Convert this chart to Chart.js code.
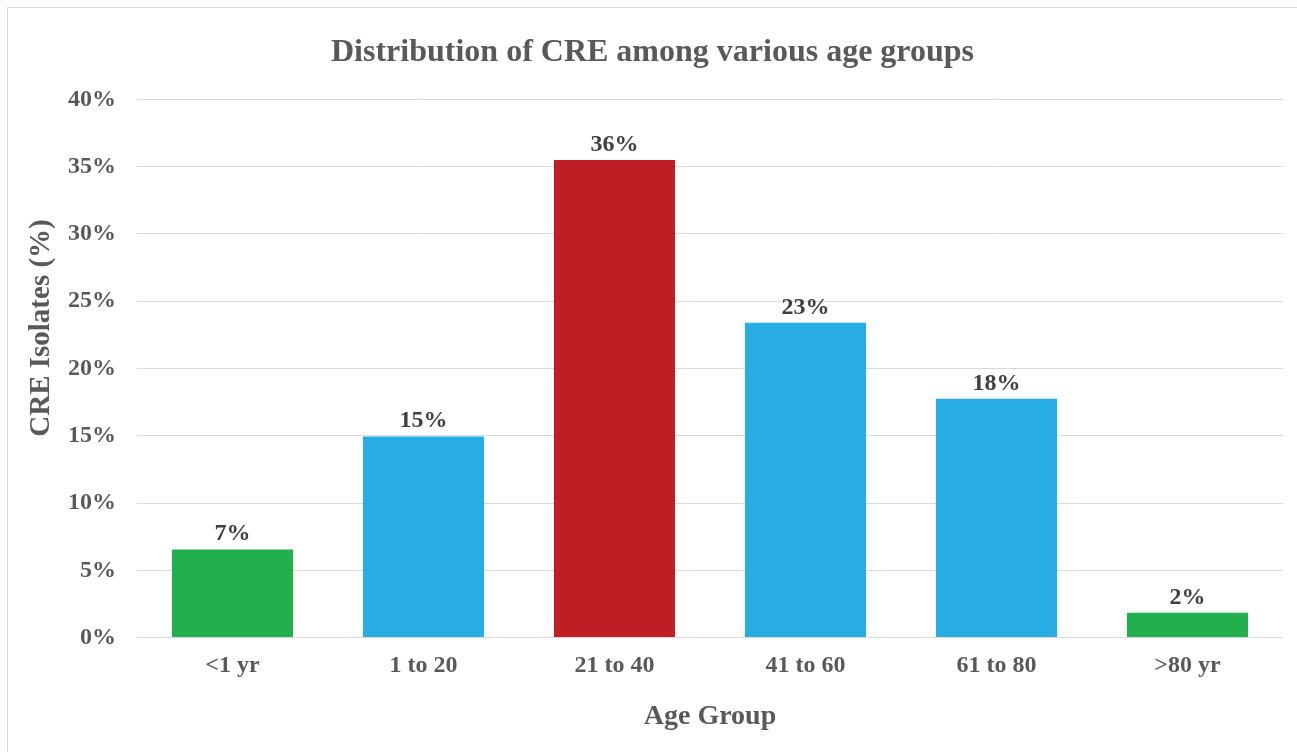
<!DOCTYPE html>
<html>
<head>
<meta charset="utf-8">
<script src="https://cdn.jsdelivr.net/npm/chart.js@4.4.0/dist/chart.umd.min.js"></script>
<style>
  html, body { margin: 0; padding: 0; background: #fff; }
  #wrap { position: absolute; left: 0; top: 0; width: 1297px; height: 752px; overflow: hidden; }
  #frame { position: absolute; left: 7px; top: 7px; width: 1300px; height: 760px;
           border-left: 1px solid #d9d9d9; border-top: 1px solid #d9d9d9; }
  canvas { position: absolute; left: 0; top: 0; }
</style>
</head>
<body>
<div id="wrap">
  <div id="frame"></div>
  <canvas id="c" width="1297" height="752"></canvas>
</div>
<script>
const categories = ["<1 yr", "1 to 20", "21 to 40", "41 to 60", "61 to 80", ">80 yr"];
const values = [6.55, 14.95, 35.5, 23.4, 17.75, 1.85];
const valueLabels = ["7%", "15%", "36%", "23%", "18%", "2%"];
const barColors = ["#21b04d", "#27ade3", "#be1e24", "#27ade3", "#27ade3", "#21b04d"];
const yTicks = [0, 5, 10, 15, 20, 25, 30, 35, 40];
const yTitle = "CRE Isolates (%)";

const FONT = "'Liberation Serif', 'Times New Roman', serif";

const dataLabelPlugin = {
  id: 'dataLabels',
  afterDatasetsDraw(chart) {
    const ctx = chart.ctx;
    const meta = chart.getDatasetMeta(0);
    ctx.save();
    ctx.font = "bold 24px " + FONT;
    ctx.fillStyle = "#404040";
    ctx.textAlign = "center";
    ctx.textBaseline = "alphabetic";
    meta.data.forEach((bar, i) => {
      ctx.fillText(valueLabels[i], bar.x, bar.y - 9);
    });
    ctx.restore();
  }
};

const yTitlePlugin = {
  id: 'yTitle',
  afterDraw(chart) {
    const ctx = chart.ctx;
    ctx.save();
    ctx.translate(42, 328);
    ctx.rotate(-Math.PI / 2);
    ctx.font = "bold 29px " + FONT;
    ctx.fillStyle = "#595959";
    ctx.textAlign = "center";
    ctx.textBaseline = "middle";
    ctx.fillText(yTitle, 0, 0);
    ctx.restore();
  }
};

new Chart(document.getElementById('c'), {
  type: 'bar',
  data: {
    labels: categories,
    datasets: [{
      data: values,
      backgroundColor: barColors,
      borderWidth: 0,
      categoryPercentage: 1.0,
      barPercentage: 0.634
    }]
  },
  options: {
    responsive: false,
    animation: false,
    devicePixelRatio: 1,
    layout: { padding: { left: 22, right: 14, top: 16, bottom: 18 } },
    plugins: {
      legend: { display: false },
      tooltip: { enabled: false },
      title: {
        display: true,
        text: "Distribution of CRE among various age groups",
        color: "#595959",
        font: { family: FONT, size: 32, weight: 'bold' },
        padding: { top: 18, bottom: 27 }
      }
    },
    scales: {
      x: {
        grid: { display: false, drawTicks: false },
        border: { display: false },
        ticks: {
          color: "#595959",
          font: { family: FONT, size: 24, weight: 'bold' },
          padding: 14
        },
        title: {
          display: true,
          text: "Age Group",
          color: "#595959",
          font: { family: FONT, size: 28, weight: 'bold' },
          padding: { top: 6, bottom: 0 }
        }
      },
      y: {
        min: 0,
        max: 40,
        afterBuildTicks(axis) { axis.ticks = yTicks.map(v => ({ value: v })); },
        afterFit(axis) { axis.width = 115; },
        grid: { color: "#d9d9d9", lineWidth: 1, drawTicks: false },
        border: { display: false },
        ticks: {
          color: "#595959",
          font: { family: FONT, size: 24, weight: 'bold' },
          padding: 21,
          callback: v => v + "%"
        },
        title: { display: false }
      }
    }
  },
  plugins: [dataLabelPlugin, yTitlePlugin]
});
</script>
</body>
</html>
